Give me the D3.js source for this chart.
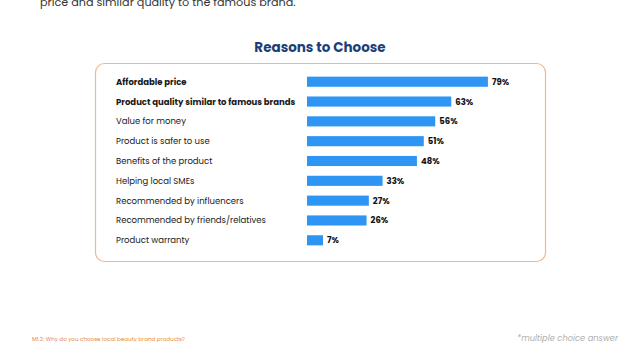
<!DOCTYPE html>
<html><head><meta charset="utf-8">
<script src="https://cdn.jsdelivr.net/npm/d3@7"></script>
<style>body{margin:0;background:#fff}svg{display:block}</style>
</head><body>
<svg id="c" width="640" height="360"></svg>
<script>
const categories = ["Affordable price","Product quality similar to famous brands","Value for money","Product is safer to use","Benefits of the product","Helping local SMEs","Recommended by influencers","Recommended by friends/relatives","Product warranty"];
const values = [79,63,56,51,48,33,27,26,7];
const boldRows = [true,true,false,false,false,false,false,false,false];
const title = "Reasons to Choose";
const introText = "price and similar quality to the famous brand.";
const footnote = "M1.2: Why do you choose local beauty brand products?";
const note = "*multiple choice answer";

const font = "Poppins, Inter, 'Open Sans', sans-serif";
const svg = d3.select("#c");

svg.append("text").attr("x",40).attr("y",6).attr("font-family",font).attr("font-size",11.2)
  .attr("fill","#333").text(introText);

svg.append("text").attr("x",320).attr("y",51.5).attr("text-anchor","middle").attr("font-family",font)
  .attr("font-size",13.5).attr("font-weight",700).attr("fill","#1d3f78").text(title);

svg.append("rect").attr("x",95.5).attr("y",63.5).attr("width",450).attr("height",198).attr("rx",9)
  .attr("fill","#fff").attr("stroke","#f2b88c").attr("stroke-width",1.2);

const x = d3.scaleLinear().domain([0,100]).range([307,536]);
const y = d3.scaleBand().domain(categories).range([71.8,250.2]).paddingInner(0.49).paddingOuter(0.245);

const rows = svg.append("g").selectAll("g").data(categories).join("g");
rows.append("rect").attr("x",x(0)).attr("y",d=>y(d)).attr("height",y.bandwidth())
  .attr("width",(d,i)=>x(values[i])-x(0)).attr("fill","#2e95f5");
rows.append("text").attr("x",116).attr("y",d=>y(d)+y.bandwidth()/2).attr("dy","0.35em")
  .attr("font-family",font).attr("font-size",8.5).attr("font-weight",(d,i)=>boldRows[i]?700:400)
  .attr("fill","#1a1a1a").text(d=>d);
rows.append("text").attr("x",(d,i)=>x(values[i])+4).attr("y",d=>y(d)+y.bandwidth()/2).attr("dy","0.35em")
  .attr("font-family",font).attr("font-size",8.5).attr("font-weight",700).attr("fill","#111")
  .text((d,i)=>values[i]+"%");

svg.append("text").attr("x",32).attr("y",341).attr("font-family",font).attr("font-size",5.6)
  .attr("fill","#e8893c").text(footnote);
svg.append("text").attr("x",618).attr("y",341).attr("text-anchor","end").attr("font-family",font)
  .attr("font-size",8.3).attr("font-style","italic").attr("fill","#b0b0b0").text(note);
</script>
</body></html>
